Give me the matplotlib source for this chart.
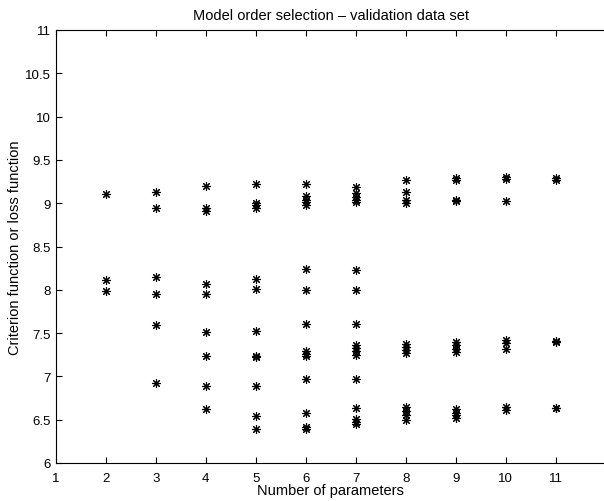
import matplotlib
matplotlib.use("Agg")
from matplotlib import pyplot as plt

plt.rcParams['font.family'] = ['Liberation Sans', 'DejaVu Sans']

# criterion values per number of parameters
n_params = [2, 3, 4, 5, 6, 7, 8, 9, 10, 11]
loss = [
    [9.11, 8.11, 7.99],
    [9.13, 8.94, 8.15, 7.95, 7.59, 6.92],
    [9.20, 8.94, 8.91, 8.07, 7.95, 7.51, 7.23, 6.89, 6.62],
    [9.22, 9.00, 8.98, 8.95, 8.13, 8.01, 7.52, 7.24, 7.22, 6.89, 6.54, 6.39],
    [9.22, 9.08, 9.04, 9.01, 8.98, 8.24, 8.00, 7.60, 7.29, 7.26, 7.24,
     6.97, 6.58, 6.41, 6.39],
    [9.19, 9.12, 9.07, 9.04, 9.01, 8.23, 8.00, 7.60, 7.36, 7.33, 7.29, 7.25,
     6.97, 6.63, 6.51, 6.47, 6.45],
    [9.27, 9.13, 9.04, 9.00, 7.37, 7.34, 7.31, 7.27, 6.65, 6.60, 6.55, 6.50],
    [9.29, 9.27, 9.04, 9.02, 7.40, 7.36, 7.32, 7.28, 6.62, 6.58, 6.55, 6.52],
    [9.30, 9.28, 9.03, 7.42, 7.39, 7.32, 6.65, 6.61],
    [9.29, 9.27, 7.41, 7.40, 6.64, 6.63],
]

fig = plt.figure(figsize=(6.04, 5.02), dpi=100)
# the box runs slightly past the right edge of the image, as in the original
ax = fig.add_axes([56 / 604, 38 / 502, 549.5 / 604, 433 / 502])

xs = []
ys = []
for n, vals in zip(n_params, loss):
    xs += [n] * len(vals)
    ys += vals
ax.plot(xs, ys, linestyle="none", marker=(8, 2, 0), markersize=6.5,
        markeredgewidth=0.8, color="black")

ax.set_xlim(1, 12)
ax.set_ylim(6, 11)
ax.set_xticks(range(1, 12))
ax.set_yticks([6, 6.5, 7, 7.5, 8, 8.5, 9, 9.5, 10, 10.5, 11])
ax.set_yticklabels(["6", "6.5", "7", "7.5", "8", "8.5", "9", "9.5", "10", "10.5", "11"])
ax.tick_params(direction="in", top=True, right=False, labelsize=9.5,
               length=4, width=0.8)
ax.tick_params(axis="x", pad=6.5)
ax.tick_params(axis="y", pad=3.5)
for s in ax.spines.values():
    s.set_linewidth(0.8)

ax.set_title("Model order selection \u2013 validation data set", fontsize=10.5, pad=8)
ax.set_xlabel("Number of parameters", fontsize=10.5, labelpad=-0.5)
ax.set_ylabel("Criterion function or loss function", fontsize=10.5, labelpad=2.5)

fig.savefig("out.png", dpi=100)
